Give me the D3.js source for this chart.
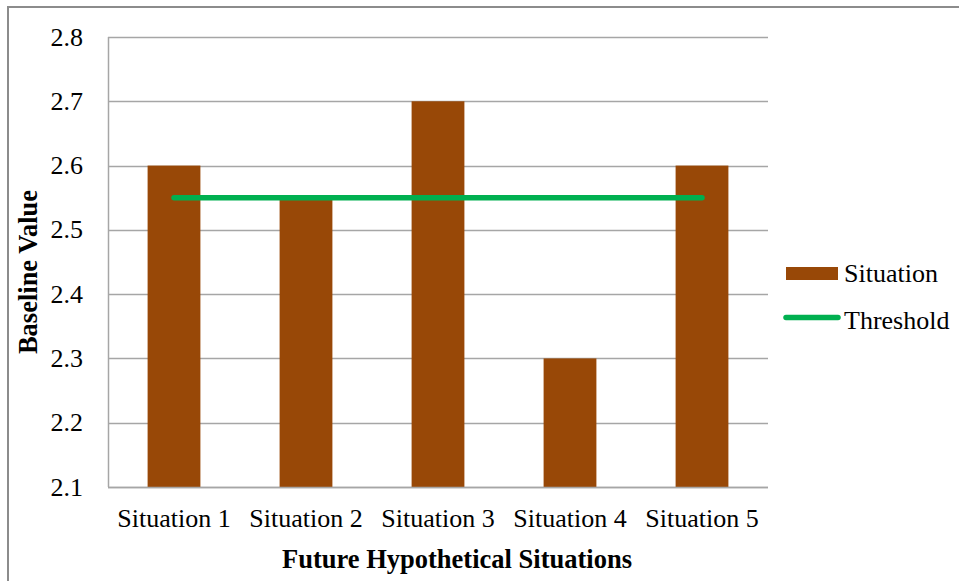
<!DOCTYPE html>
<html>
<head>
<meta charset="utf-8">
<script src="https://cdn.jsdelivr.net/npm/d3@7"></script>
<style>
  body { margin: 0; background: #fff; }
</style>
</head>
<body>
<div id="chart"></div>
<script>
// chart data
const categories = ["Situation 1", "Situation 2", "Situation 3", "Situation 4", "Situation 5"];
const situationValues = [2.6, 2.55, 2.7, 2.3, 2.6];
const thresholdValues = [2.55, 2.55, 2.55, 2.55, 2.55];
const yTicks = [2.1, 2.2, 2.3, 2.4, 2.5, 2.6, 2.7, 2.8];
const seriesNames = ["Situation", "Threshold"];

const w = 959, h = 581;
const plotLeft = 108, plotRight = 768, plotTop = 37, plotBottom = 487;
const barColor = "#984807", lineColor = "#00b050", gridColor = "#a6a6a6";
const serif = "'Liberation Serif', 'Times New Roman', Times, serif";

let svg = d3.select("#chart").append("svg")
    .attr("width", w)
    .attr("height", h)
    .attr("font-family", serif);

// outer frame (cut off at right and bottom like the source)
svg.append("rect")
    .attr("x", 8).attr("y", 7)
    .attr("width", w + 10).attr("height", h + 10)
    .attr("fill", "none")
    .attr("stroke", "#8c8c8c")
    .attr("stroke-width", 2);

// scales
var xScale = d3.scaleBand().domain(categories).range([plotLeft, plotRight])
    .paddingInner(0.6).paddingOuter(0.3);
var yScale = d3.scaleLinear().domain([2.1, 2.8]).range([plotBottom, plotTop]);

// gridlines
svg.append("g").selectAll("line")
    .data(yTicks)
    .join("line")
    .attr("x1", plotLeft).attr("x2", plotRight)
    .attr("y1", d => Math.round(yScale(d)) + 0.5)
    .attr("y2", d => Math.round(yScale(d)) + 0.5)
    .attr("stroke", gridColor)
    .attr("stroke-width", 1.5);

// y axis line
svg.append("line")
    .attr("x1", plotLeft + 0.5).attr("x2", plotLeft + 0.5)
    .attr("y1", plotTop).attr("y2", plotBottom)
    .attr("stroke", gridColor)
    .attr("stroke-width", 1.5);

// y tick labels
svg.append("g").selectAll("text")
    .data(yTicks)
    .join("text")
    .attr("x", 83)
    .attr("y", d => yScale(d))
    .attr("dy", "0.33em")
    .attr("text-anchor", "end")
    .attr("font-size", 26)
    .text(d => d3.format(".1f")(d));

// bars
svg.append("g").selectAll("rect")
    .data(situationValues)
    .join("rect")
    .attr("x", (d, i) => xScale(categories[i]))
    .attr("width", xScale.bandwidth())
    .attr("y", d => yScale(d))
    .attr("height", d => yScale(2.1) - yScale(d))
    .attr("fill", barColor);

// bottom axis line drawn over bars
svg.append("line")
    .attr("x1", plotLeft).attr("x2", plotRight)
    .attr("y1", plotBottom + 0.5).attr("y2", plotBottom + 0.5)
    .attr("stroke", gridColor)
    .attr("stroke-width", 1.5);

// threshold line
var line = d3.line()
    .x((d, i) => xScale(categories[i]) + xScale.bandwidth() / 2)
    .y(d => yScale(d));
svg.append("path")
    .datum(thresholdValues)
    .attr("d", line)
    .attr("fill", "none")
    .attr("stroke", lineColor)
    .attr("stroke-width", 5.5)
    .attr("stroke-linecap", "round");

// x tick labels
svg.append("g").selectAll("text")
    .data(categories)
    .join("text")
    .attr("x", d => xScale(d) + xScale.bandwidth() / 2)
    .attr("y", 527)
    .attr("text-anchor", "middle")
    .attr("font-size", 26)
    .text(d => d);

// axis titles
svg.append("text")
    .attr("x", 457).attr("y", 568)
    .attr("text-anchor", "middle")
    .attr("font-size", 26.5)
    .attr("font-weight", "bold")
    .text("Future Hypothetical Situations");

svg.append("text")
    .attr("transform", "translate(37,272) rotate(-90)")
    .attr("text-anchor", "middle")
    .attr("font-size", 26.5)
    .attr("font-weight", "bold")
    .text("Baseline Value");

// legend
let legend = svg.append("g");
legend.append("rect")
    .attr("x", 786).attr("y", 267)
    .attr("width", 52).attr("height", 13)
    .attr("fill", barColor);
legend.append("line")
    .attr("x1", 786).attr("x2", 838)
    .attr("y1", 317.5).attr("y2", 317.5)
    .attr("stroke", lineColor)
    .attr("stroke-width", 5.5)
    .attr("stroke-linecap", "round");
legend.selectAll("text")
    .data(seriesNames)
    .join("text")
    .attr("x", 844)
    .attr("y", (d, i) => 273 + i * 47)
    .attr("dy", "0.33em")
    .attr("font-size", 26)
    .text(d => d);
</script>
</body>
</html>
